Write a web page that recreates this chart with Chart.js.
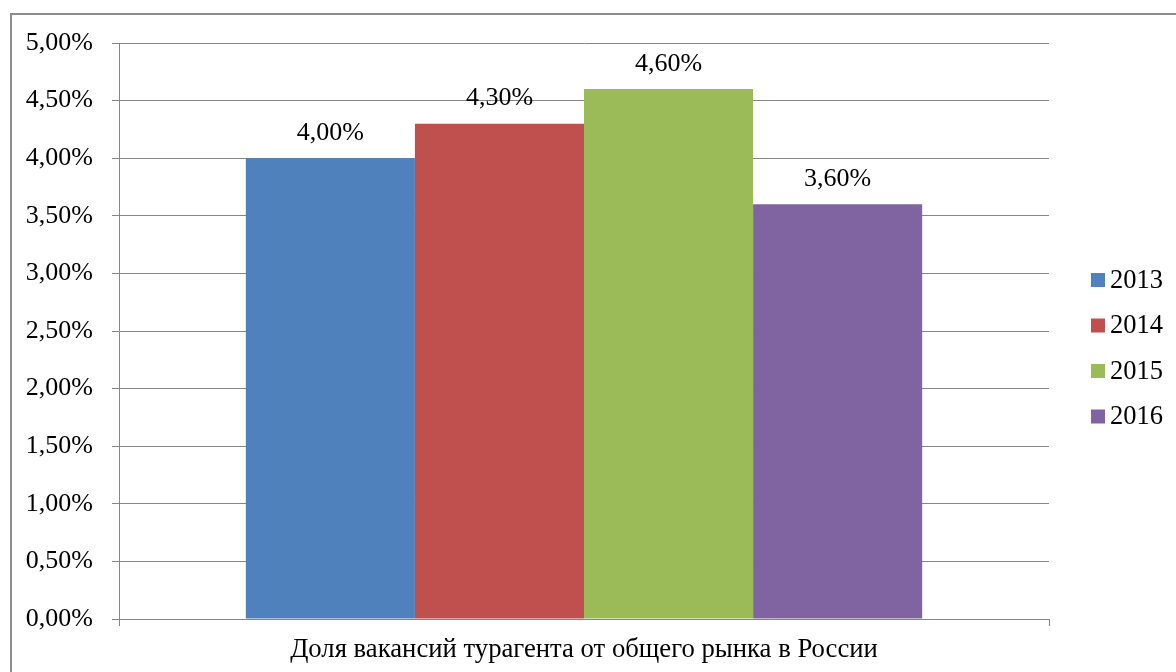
<!DOCTYPE html>
<html>
<head>
<meta charset="utf-8">
<script src="https://cdn.jsdelivr.net/npm/chart.js@4"></script>
<style>
  html, body { margin: 0; padding: 0; background: #fff; overflow: hidden; }
  #wrap { position: relative; width: 1176px; height: 672px; overflow: hidden; }
  #frame { position: absolute; left: 10px; top: 13px; width: 1200px; height: 700px; border: 2px solid #8c8c8c; box-sizing: border-box; }
  #chart { position: absolute; left: 0; top: 0; }
</style>
</head>
<body>
<div id="wrap">
  <div id="frame"></div>
  <canvas id="chart" width="1176" height="672"></canvas>
</div>
<script>
const categories = ['Доля вакансий турагента от общего рынка в России'];
const years = ['2013', '2014', '2015', '2016'];
const shares = [4.0, 4.3, 4.6, 3.6];
const colors = ['#4F81BD', '#C0504D', '#9BBB59', '#8064A2'];

const FONT = '"Liberation Serif", "Times New Roman", serif';
const FSIZE = 26;
const GRID = '#868686';

function fmt(v) {
  return v.toFixed(2).replace('.', ',') + '%';
}

// value labels above bars
const barLabels = {
  id: 'barLabels',
  afterDatasetsDraw(chart) {
    const ctx = chart.ctx;
    ctx.save();
    ctx.font = FSIZE + 'px ' + FONT;
    ctx.fillStyle = '#000';
    ctx.textAlign = 'center';
    ctx.textBaseline = 'middle';
    chart.data.datasets.forEach((ds, i) => {
      chart.getDatasetMeta(i).data.forEach((bar, j) => {
        ctx.fillText(fmt(ds.data[j]), bar.x, bar.y - 25);
      });
    });
    ctx.restore();
  }
};

// legend on the right, Excel style
const sideLegend = {
  id: 'sideLegend',
  afterDraw(chart) {
    const ctx = chart.ctx;
    ctx.save();
    ctx.font = '26.5px ' + FONT;
    ctx.textBaseline = 'middle';
    ctx.textAlign = 'left';
    chart.data.datasets.forEach((ds, i) => {
      const cy = 280 + i * 45.5;
      ctx.fillStyle = ds.backgroundColor;
      ctx.fillRect(1091, cy - 7, 14, 14);
      ctx.fillStyle = '#000';
      ctx.fillText(ds.label, 1110, cy + 1);
    });
    ctx.restore();
  }
};

new Chart(document.getElementById('chart'), {
  type: 'bar',
  data: {
    labels: categories,
    datasets: years.map((y, i) => ({
      label: y,
      data: [shares[i]],
      backgroundColor: colors[i],
      categoryPercentage: 4 / 5.5,
      barPercentage: 1
    }))
  },
  options: {
    responsive: false,
    animation: false,
    layout: { padding: { left: 0, top: 43, right: 127, bottom: 0 } },
    scales: {
      x: {
        grid: { display: true, drawOnChartArea: false, tickLength: 7, color: GRID },
        border: { color: GRID },
        ticks: { color: '#000', font: { family: FONT, size: 26.7 }, padding: 8 },
        afterFit(scale) { scale.height = 53; }
      },
      y: {
        min: 0,
        max: 5,
        ticks: {
          stepSize: 0.5,
          color: '#000',
          font: { family: FONT, size: FSIZE },
          padding: 19,
          callback: v => fmt(v)
        },
        grid: { color: GRID, tickLength: 7 },
        border: { color: GRID },
        afterFit(scale) { scale.width = 119; }
      }
    },
    plugins: {
      legend: { display: false },
      tooltip: { enabled: false }
    }
  },
  plugins: [barLabels, sideLegend]
});
</script>
</body>
</html>
